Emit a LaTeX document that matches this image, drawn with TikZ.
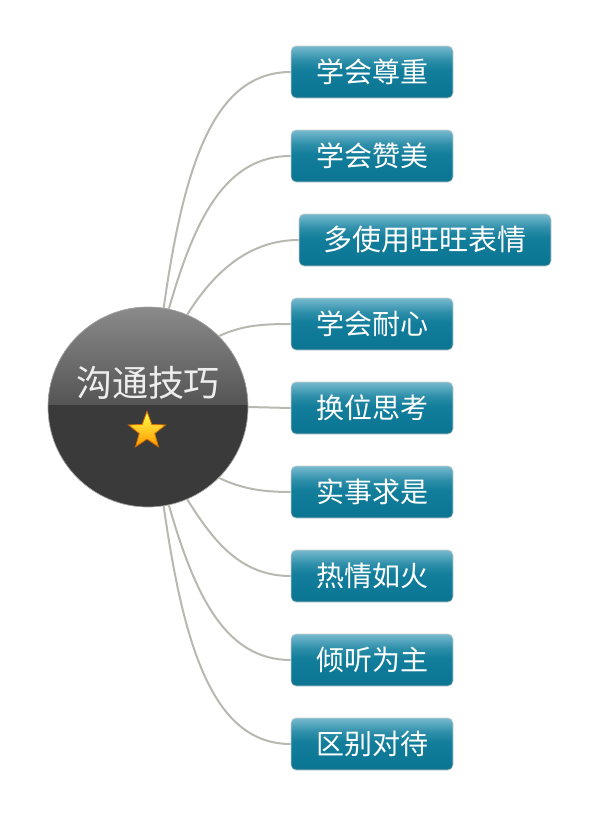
\documentclass[tikz,border=0pt]{standalone}
\usepackage{fontspec}
\setmainfont{Noto Sans CJK SC}
\usetikzlibrary{shapes.geometric}
\definecolor{linegray}{HTML}{B8B8B0}
\definecolor{boxdark}{HTML}{0B7592}
\definecolor{boxmid}{HTML}{127E9B}
\definecolor{boxlight}{HTML}{78BAD0}
\definecolor{circdark}{HTML}{3A3A3A}
\definecolor{circtop}{HTML}{8A8A8A}
\definecolor{circmid}{HTML}{555555}
\pgfdeclareverticalshading{boxshade}{100bp}{color(0bp)=(boxdark); color(25bp)=(boxdark); color(52bp)=(boxmid); color(62bp)=(boxmid!70!boxlight); color(75bp)=(boxlight); color(100bp)=(boxlight)}
\pgfdeclareverticalshading{halfshade}{100bp}{color(0bp)=(circmid); color(25bp)=(circmid); color(75bp)=(circtop); color(100bp)=(circtop)}
\pgfdeclareverticalshading{starshade}{100bp}{color(0bp)=(orange!90!yellow); color(25bp)=(orange!80!yellow); color(75bp)=(yellow!70!white); color(100bp)=(yellow!70!white)}
\tikzset{
  topic/.style={draw=gray!40, line width=0.6pt, rounded corners=5pt, shading=boxshade,
    minimum height=52pt, text=white, font=\fontsize{28}{28}\selectfont, inner sep=0pt},
  conn/.style={draw=linegray, line width=2pt},
}
\begin{document}
\begin{tikzpicture}[x=1pt,y=-1pt]
\useasboundingbox (0,0) rectangle (600,815);
\coordinate (cc) at (148,407);
% central circle
\node[circle, minimum size=200pt, inner sep=0pt, fill=circdark] (c) at (cc) {};
\begin{scope}
  \clip (cc) circle (100pt);
  \shade[shading=halfshade] (48,307) rectangle (248,404);
\end{scope}
\draw[gray!70, line width=0.7pt] (c.center) circle (100pt);
\node[text=white!93!black, font=\fontsize{36}{36}\selectfont] (t) at (148,383) {沟通技巧};
\node[star, star points=5, star point ratio=2.4, minimum size=39pt, inner sep=0pt,
  shading=starshade, draw=orange!85!black, line width=0.8pt] (s) at (147,431) {};
% topics
\node[topic, minimum width=162pt] (b1) at (372,72) {学会尊重};
\node[topic, minimum width=162pt] (b2) at (372,156) {学会赞美};
\node[topic, minimum width=252pt, font=\fontsize{29}{29}\selectfont] (b3) at (425,240) {多使用旺旺表情};
\node[topic, minimum width=162pt] (b4) at (372,324) {学会耐心};
\node[topic, minimum width=162pt] (b5) at (372,408) {换位思考};
\node[topic, minimum width=162pt] (b6) at (372,492) {实事求是};
\node[topic, minimum width=162pt] (b7) at (372,576) {热情如火};
\node[topic, minimum width=162pt] (b8) at (372,660) {倾听为主};
\node[topic, minimum width=162pt] (b9) at (372,744) {区别对待};
% connectors
\path[conn] (c.81) to[out=82, in=180, out distance=150pt, in distance=75pt] (b1.west);
\path[conn] (c.78) to[out=74, in=180, out distance=95pt, in distance=65pt] (b2.west);
\path[conn] (c.67) to[out=58, in=180, out distance=50pt, in distance=50pt] (b3.west);
\path[conn] (c.45) to[out=25, in=180, out distance=25pt, in distance=30pt] (b4.west);
\path[conn] (c.0) -- (b5.west);
\path[conn] (c.-45) to[out=-25, in=180, out distance=25pt, in distance=30pt] (b6.west);
\path[conn] (c.-67) to[out=-58, in=180, out distance=50pt, in distance=50pt] (b7.west);
\path[conn] (c.-78) to[out=-74, in=180, out distance=95pt, in distance=65pt] (b8.west);
\path[conn] (c.-81) to[out=-82, in=180, out distance=150pt, in distance=75pt] (b9.west);
\end{tikzpicture}
\end{document}
